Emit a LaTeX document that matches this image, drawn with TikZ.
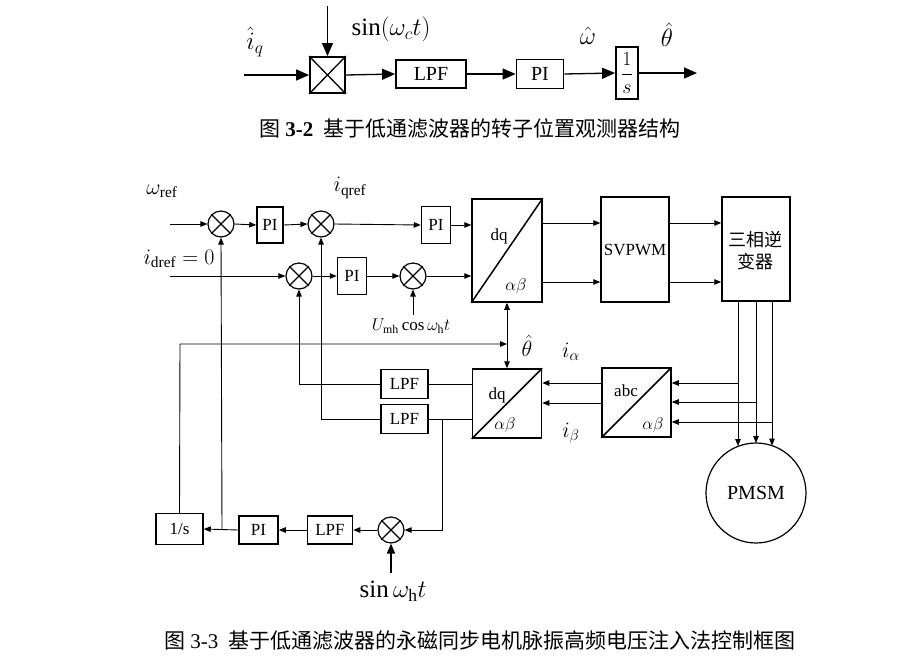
\RequirePackage{fix-cm}
\documentclass[tikz,border=0pt]{standalone}
\usepackage{fontspec}
\setmainfont{Liberation Serif}
\newfontfamily\cjk{Noto Sans CJK SC}
\usetikzlibrary{arrows.meta}
\newcommand\mulnode[2]{\node[mul] (#1) at #2 {};
  \draw[line width=1.2pt] (#1.north east)--(#1.south west) (#1.north west)--(#1.south east);}
\begin{document}
\begin{tikzpicture}[x=1pt,y=-1pt,line width=0.9pt,
  arr/.style={-{Triangle[length=7pt,width=5.5pt]}},
  darr/.style={{Triangle[length=7pt,width=5.5pt]}-{Triangle[length=7pt,width=5.5pt]}},
  barr/.style={-{Triangle[length=13pt,width=11pt]},line width=1.3pt},
  tblk/.style={draw,line width=1.8pt,fill=white,inner sep=0pt,font=\fontsize{20}{24}\selectfont},
  blk/.style={draw,line width=1.5pt,fill=white,inner sep=0pt,font=\fontsize{17}{20}\selectfont},
  tr/.style={draw,line width=1.5pt,fill=white,inner sep=0pt},
  mul/.style={circle,draw,line width=1.2pt,minimum size=26pt,inner sep=0pt},
  tlab/.style={font=\fontsize{25}{30}\selectfont,inner sep=0pt},
  lab/.style={font=\fontsize{22}{26}\selectfont,inner sep=0pt},
  slab/.style={font=\fontsize{17}{20}\selectfont},
  capt/.style={font=\fontsize{21}{24}\selectfont},
]
\useasboundingbox (0,0) rectangle (903,670);
% ---------------- top figure ----------------
\node[tblk,minimum width=35pt,minimum height=36pt] (mx) at (327.5,75) {};
\draw[line width=1.3pt] (mx.north west)--(mx.south east) (mx.north east)--(mx.south west);
\node[tblk,minimum width=70pt,minimum height=28pt] (lpft) at (431,74) {LPF};
\node[tblk,minimum width=47pt,minimum height=29pt] (pit) at (540,74) {PI};
\node[tblk,minimum width=22pt,minimum height=52pt] (intt) at (627,73) {$\displaystyle\frac{1}{s}$};
\coordinate (tin) at (244,75);
\coordinate (ttop) at (327.5,6);
\coordinate (tout) at (697,73);
\draw[barr] (tin) -- (mx.west);
\draw[barr] (ttop) -- (mx.north);
\draw[barr] (mx.east) -- (lpft.west);
\draw[barr] (lpft.east) -- (pit.west);
\draw[barr] (pit.east) -- (intt.west);
\draw[barr] (intt.east) -- (tout);
\node[tlab] (liq) at (255,42) {$\hat{i}_q$};
\node[tlab] (lsin) at (391,29) {$\sin(\omega_c t)$};
\node[tlab] (lw) at (588,36) {$\hat{\omega}$};
\node[tlab] (lth) at (667,35) {$\hat{\theta}$};
\node[capt] (cap1) at (470,128) {{\cjk 图}\ \textbf{3-2}\ \ {\cjk 基于低通滤波器的转子位置观测器结构}};
% ---------------- bottom figure ----------------
\mulnode{s1}{(221,224)}
\node[blk,minimum width=26pt,minimum height=36pt] (pi1) at (270,225) {PI};
\mulnode{s2}{(321,224)}
\node[blk,minimum width=29pt,minimum height=37pt] (pi2) at (436,225) {PI};
\mulnode{s3}{(299,276)}
\node[blk,minimum width=29pt,minimum height=37pt] (pi3) at (352,276) {PI};
\mulnode{s4}{(413,276)}
% dq / alpha beta (forward)
\node[tr,minimum width=70pt,minimum height=103pt] (dq1) at (507,250.5) {};
\draw[line width=1.5pt] (dq1.south west)--(dq1.north east);
\node[slab] at (499,236) {dq};
\node[slab] at (516,286) {$\alpha\beta$};
\node[blk,minimum width=68pt,minimum height=105pt] (svp) at (635,249.5) {SVPWM};
\node[blk,minimum width=68pt,minimum height=104pt] (inv) at (756,249) {};
\node[font=\fontsize{18}{21}\selectfont\cjk] at (755,240) {三相逆};
\node[font=\fontsize{18}{21}\selectfont\cjk] at (755,262) {变器};
% PMSM
\node[circle,draw,line width=1.2pt,minimum size=100pt,inner sep=0pt,font=\fontsize{20}{24}\selectfont] (pmsm) at (756,493) {PMSM};
% feedback transforms
\node[tr,minimum width=69pt,minimum height=69pt] (abc) at (636.5,402.5) {};
\draw[line width=1.5pt] (abc.south west)--(abc.north east);
\node[slab] at (626,391) {abc};
\node[slab] at (653,425) {$\alpha\beta$};
\node[tr,minimum width=69pt,minimum height=69pt] (dq2) at (507,403.5) {};
\draw[line width=1.5pt] (dq2.south west)--(dq2.north east);
\node[slab] at (497,395) {dq};
\node[slab] at (505,425) {$\alpha\beta$};
\node[blk,minimum width=47pt,minimum height=29pt] (lpf1) at (404.5,384) {LPF};
\node[blk,minimum width=47pt,minimum height=29pt] (lpf2) at (404.5,419) {LPF};
% bottom chain
\mulnode{s5}{(391,530)}
\node[blk,minimum width=45pt,minimum height=28pt] (lpf3) at (330,530) {LPF};
\node[blk,minimum width=39pt,minimum height=28pt] (pi4) at (258.5,530) {PI};
\node[blk,minimum width=47pt,minimum height=31pt] (ints) at (179.5,529) {1/s};
% coordinates
\coordinate (win) at (170,224);
\coordinate (din) at (170,276);
\coordinate (uin) at (413,315);
\coordinate (sinin) at (391,573);
\coordinate (br1) at (222,530);
\coordinate (th1) at (180,344);
\coordinate (th2) at (507,344);
\coordinate (f1) at (299,384);
\coordinate (f2) at (321,419);
\coordinate (b1) at (442,419);
\coordinate (b2) at (442,530);
\coordinate (ta) at (738,383);
\coordinate (tb) at (756,402);
\coordinate (tc) at (772,422);
\coordinate (pa) at (738,446);
\coordinate (pb) at (756,443);
\coordinate (pc) at (772,445.6);
% forward connectors
\draw[arr] (win) -- (s1.west);
\draw[arr] (s1.east) -- (pi1.west);
\draw[arr] (pi1.east) -- (s2.west);
\draw[arr] (s2.east) -- (pi2.west);
\draw[arr] (pi2.east) -- (pi2.east -| dq1.west);
\draw[arr] (din) -- (s3.west);
\draw[arr] (s3.east) -- (pi3.west);
\draw[arr] (pi3.east) -- (s4.west);
\draw[arr] (s4.east) -- (s4.east -| dq1.west);
\draw[arr] (uin) -- (s4.south);
\draw[arr] (dq1.east |- 0,223) -- (svp.west |- 0,223);
\draw[arr] (dq1.east |- 0,282) -- (svp.west |- 0,282);
\draw[arr] (svp.east |- 0,223) -- (inv.west |- 0,223);
\draw[arr] (svp.east |- 0,282) -- (inv.west |- 0,282);
\draw[arr] (inv.south -| ta) -- (pa);
\draw[arr] (inv.south -| tb) -- (pb);
\draw[arr] (inv.south -| tc) -- (pc);
% current feedback
\draw[arr] (ta) -- (ta -| abc.east);
\draw[arr] (tb) -- (tb -| abc.east);
\draw[arr] (tc) -- (tc -| abc.east);
\draw[arr] (abc.west |- 0,383) -- (dq2.east |- 0,383);
\draw[arr] (abc.west |- 0,403) -- (dq2.east |- 0,403);
\draw (dq2.west |- lpf1) -- (lpf1.east);
\draw (dq2.west |- f2) -- (lpf2.east |- f2);
\draw[arr] (lpf1.west) -- (f1) -- (s3.south);
\draw[arr] (lpf2.west |- f2) -- (f2) -- (s2.south);
% observer loop
\draw[arr] (b1) -- (b2) -- (s5.east);
\draw[-{Triangle[length=10pt,width=8pt]},line width=1.6pt] (sinin) -- (s5.south);
\draw[arr] (s5.west) -- (lpf3.east);
\draw[arr] (lpf3.west) -- (pi4.east);
\draw[arr] (pi4.west) -- (ints.east);
\draw[arr] (br1) -- (s1.south);
\draw[arr] (ints.north) -- (th1) -- (th2);
\draw[darr] (dq1.south) -- (dq2.north);
% labels
\node[lab] (lwref) at (162,191) {$\omega_{\mathrm{ref}}$};
\node[lab] (liqref) at (350,188) {$i_{\mathrm{qref}}$};
\node[lab] (lidref) at (179,259) {$i_{\mathrm{dref}}=0$};
\node[font=\fontsize{17}{20}\selectfont,inner sep=0pt] (lu) at (411,326) {$U_{\mathrm{mh}}\cos\omega_{\mathrm{h}}t$};
\node[lab] (lthb) at (527,346) {$\hat{\theta}$};
\node[lab] (lia) at (571,352) {$i_\alpha$};
\node[lab] (lib) at (571,433) {$i_\beta$};
\node[font=\fontsize{25}{30}\selectfont,inner sep=0pt] (lsinh) at (393,591) {$\sin\omega_{\mathrm{h}}t$};
\node[capt] (cap2) at (480,641) {{\cjk 图}\ 3-3\ \ {\cjk 基于低通滤波器的永磁同步电机脉振高频电压注入法控制框图}};
\end{tikzpicture}
\end{document}
